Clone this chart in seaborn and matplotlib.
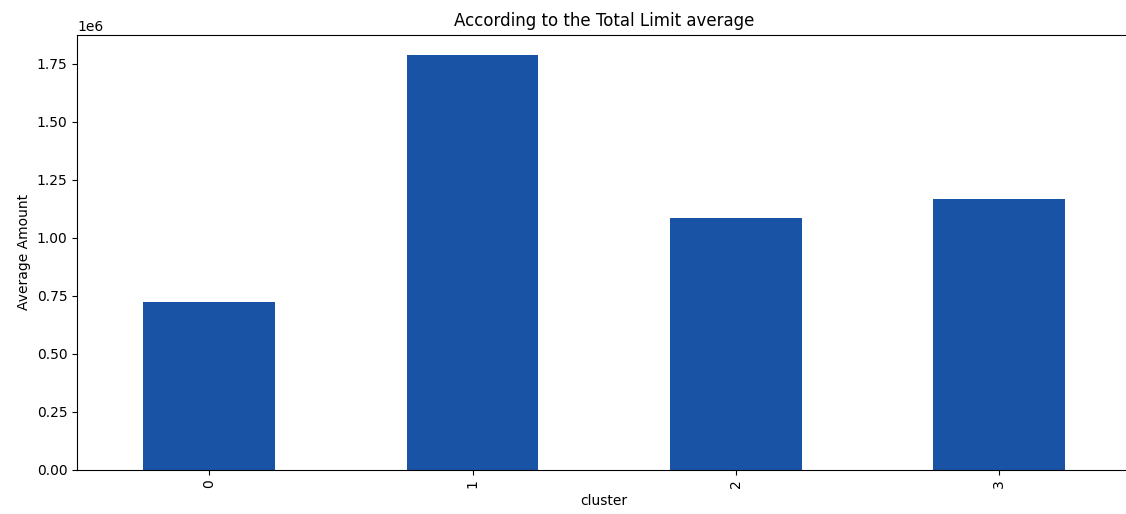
import matplotlib
matplotlib.use("Agg")
import matplotlib.pyplot as plt
import seaborn as sns
import pandas as pd

clusters = ["0", "1", "2", "3"]
avg_total_limit = [722000, 1786000, 1086000, 1168000]

df = pd.DataFrame({"cluster": clusters, "avg": avg_total_limit})

fig = plt.figure(figsize=(11.26, 5.14), dpi=100)
ax = fig.add_axes([77.4 / 1126, 1 - 469.7 / 514, (1131 - 77.4) / 1126, (469.7 - 34.7) / 514])

sns.barplot(data=df, x="cluster", y="avg", order=clusters, color="#1953a5",
            saturation=1, width=0.5, ax=ax, errorbar=None)

ax.set_xlim(-0.5, 3.5)
ax.set_ylim(0, max(avg_total_limit) * 1.05)
ax.set_title("According to the Total Limit average", fontsize=12)
ax.set_xlabel("cluster")
ax.set_ylabel("Average Amount")
ax.tick_params(axis="x", labelrotation=90)

fig.savefig("out.png", dpi=100)
